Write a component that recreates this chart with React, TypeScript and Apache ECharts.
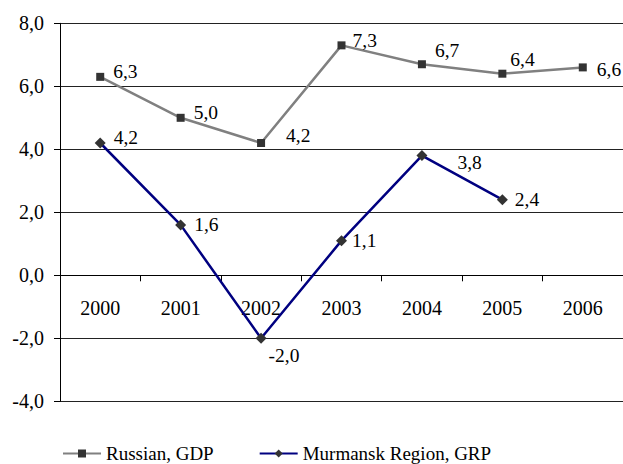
import React, { useEffect, useRef } from "react";
import * as echarts from "echarts";

const years = ["2000", "2001", "2002", "2003", "2004", "2005", "2006"];
const russiaGDP = [6.3, 5.0, 4.2, 7.3, 6.7, 6.4, 6.6];
const murmanskGRP: (number | null)[] = [4.2, 1.6, -2.0, 1.1, 3.8, 2.4, null];

// label placement (styling only)
const russiaLabelOffsets = [[9, -5], [9, -5], [21, -8], [7, -5], [9, -14], [4, -14], [10, 2]];
const murmanskLabelOffsets = [[8, -6], [8, 0], [2, 17], [5, 0], [30, 7], [7, 0], [0, 0]];

const Y_MIN = -4;
const Y_MAX = 8;
const Y_STEP = 2;

const FONT = "Liberation Serif";
const fmt = (v: number) => v.toFixed(1).replace(".", ",");

const GRID_TOP = 23.3;
const GRID_BOTTOM = 62.7;
const CHART_H = 464;

export default function App() {
  const ref = useRef<HTMLDivElement>(null);
  useEffect(() => {
    if (!ref.current) return;
    const chart = echarts.init(ref.current, undefined, { renderer: "svg" });
    const mkData = (vals: (number | null)[], offs: number[][]) =>
      vals.map((v, i) =>
        v === null
          ? "-"
          : {
              value: v,
              label: { offset: offs[i] },
            }
      );
    // place category axis on the zero line
    const plotH = CHART_H - GRID_TOP - GRID_BOTTOM;
    const zeroOffset = -(plotH * (0 - Y_MIN)) / (Y_MAX - Y_MIN);
    chart.setOption({
      animation: false,
      backgroundColor: "#ffffff",
      textStyle: { fontFamily: FONT },
      grid: { left: 60, right: 0, top: GRID_TOP, bottom: GRID_BOTTOM, containLabel: false },
      legend: {
        left: 62,
        top: 444,
        padding: 0,
        itemWidth: 38,
        itemHeight: 10,
        itemGap: 45,
        textStyle: { fontFamily: FONT, fontSize: 19, color: "#000" },
        data: ["Russian, GDP", "Murmansk Region, GRP"],
      },
      xAxis: {
        type: "category",
        data: years,
        boundaryGap: true,
        position: "bottom",
        offset: zeroOffset,
        axisLine: { onZero: false, lineStyle: { color: "#000", width: 1 } },
        axisTick: { show: true, length: 6, lineStyle: { color: "#000" } },
        axisLabel: { margin: 23, fontFamily: FONT, fontSize: 20, color: "#000" },
        splitLine: { show: false },
      },
      yAxis: {
        type: "value",
        min: Y_MIN,
        max: Y_MAX,
        interval: Y_STEP,
        axisLine: { show: true, lineStyle: { color: "#000", width: 1 } },
        axisTick: { show: true, length: 6, lineStyle: { color: "#000" } },
        axisLabel: {
          margin: 16,
          fontFamily: FONT,
          fontSize: 20,
          color: "#000",
          formatter: (v: number) => fmt(v),
        },
        splitLine: { show: true, lineStyle: { color: "#222", width: 1 } },
      },
      series: [
        {
          name: "Russian, GDP",
          type: "line",
          data: mkData(russiaGDP, russiaLabelOffsets),
          symbol: "rect",
          symbolSize: 8,
          itemStyle: { color: "#333333" },
          lineStyle: { color: "#808080", width: 2.5 },
          label: {
            show: true,
            position: "right",
            distance: 0,
            fontFamily: FONT,
            fontSize: 19.5,
            color: "#000",
            formatter: (p: any) => fmt(p.value),
          },
          z: 3,
        },
        {
          name: "Murmansk Region, GRP",
          type: "line",
          data: mkData(murmanskGRP, murmanskLabelOffsets),
          symbol: "diamond",
          symbolSize: 11,
          itemStyle: { color: "#333333" },
          lineStyle: { color: "#000080", width: 2.5 },
          label: {
            show: true,
            position: "right",
            distance: 0,
            fontFamily: FONT,
            fontSize: 19.5,
            color: "#000",
            formatter: (p: any) => fmt(p.value),
          },
          z: 4,
        },
      ],
    });
    return () => chart.dispose();
  }, []);
  return (
    <div
      ref={ref}
      style={{ position: "fixed", left: 0, top: 0, width: 623, height: 464 }}
    />
  );
}
